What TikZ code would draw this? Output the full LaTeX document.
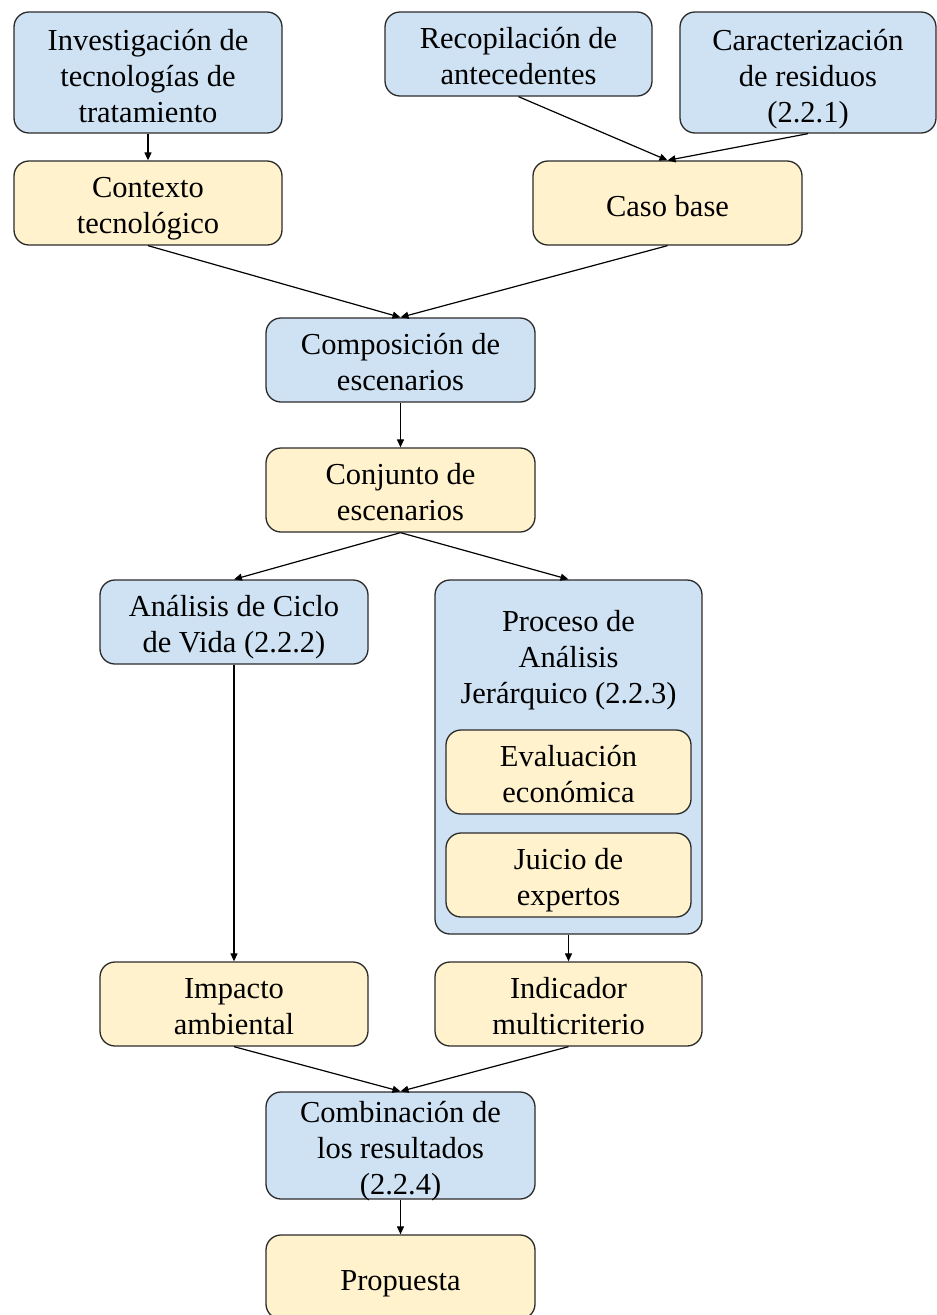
\documentclass[tikz,border=0pt]{standalone}
\usepackage{fontspec}
\setmainfont{Liberation Serif}
\usetikzlibrary{arrows.meta}
\definecolor{stepblue}{HTML}{CFE2F3}
\definecolor{resyellow}{HTML}{FFF2CC}
\definecolor{edgegray}{HTML}{2B2B2B}
\begin{document}
\begin{tikzpicture}[x=1pt,y=-1pt,
  txt/.style={inner sep=0pt, align=center, font=\fontsize{30.5}{36}\selectfont,
    execute at end node={\rule[-7pt]{0pt}{7pt}}},
  % struts (measured from the last baseline) that place the text block in its box
  l1/.style={execute at begin node={\rule{0pt}{33.5pt}}},
  l2/.style={execute at begin node={\rule{0pt}{68pt}}},
  l3/.style={execute at begin node={\rule{0pt}{107pt}}},
  box/.style={txt, draw=edgegray, line width=1.3pt, rounded corners=15pt,
    minimum height=84pt},
  bluebox/.style={box, fill=stepblue},
  yellowbox/.style={box, fill=resyellow},
  link/.style={draw=black, line width=1.2pt, -{Triangle[length=8pt,width=7pt]}}]
\clip (0,0) rectangle (937,1315);
\useasboundingbox (0,0) rectangle (937,1315);

% top row: inputs
\node[bluebox, l3, minimum width=268pt, minimum height=121pt] (inv) at (148,72.5)
  {Investigación de\\tecnologías de\\tratamiento};
\node[bluebox, l2, minimum width=267pt] (rec) at (518.5,54)
  {Recopilación de\\antecedentes};
\node[bluebox, l3, minimum width=256pt, minimum height=121pt] (car) at (808,72.5)
  {Caracterización\\de residuos\\(2.2.1)};

% intermediate results
\node[yellowbox, l2, minimum width=268pt] (ctx) at (148,203) {Contexto\\tecnológico};
\node[yellowbox, l1, minimum width=269pt] (base) at (667.5,203) {Caso base};

\node[bluebox, l2, minimum width=269pt] (comp) at (400.5,360) {Composición de\\escenarios};
\node[yellowbox, l2, minimum width=269pt] (conj) at (400.5,490) {Conjunto de\\escenarios};

% evaluation branches
\node[bluebox, l2, minimum width=268pt] (acv) at (234,622) {Análisis de Ciclo\\de Vida (2.2.2)};
\node[bluebox, minimum width=267pt, minimum height=354pt] (ahp) at (568.5,757) {};
\node[txt, l3] (ahptext) at (568.5,653) {Proceso de\\Análisis\\Jerárquico (2.2.3)};
\node[yellowbox, l2, minimum width=245pt] (eco) at (568.5,772) {Evaluación\\económica};
\node[yellowbox, l2, minimum width=245pt] (exp) at (568.5,875) {Juicio de\\expertos};

\node[yellowbox, l2, minimum width=268pt] (imp) at (234,1004) {Impacto\\ambiental};
\node[yellowbox, l2, minimum width=267pt] (ind) at (568.5,1004) {Indicador\\multicriterio};

% final steps
\node[bluebox, minimum width=269pt, minimum height=107pt] (comb) at (400.5,1145.5) {};
\node[txt, l3] (combtext) at (400.5,1144.5) {Combinación de\\los resultados\\(2.2.4)};
\node[yellowbox, l1, minimum width=269pt] (prop) at (400.5,1277) {Propuesta};

% connectors
\draw[link] (inv.south) -- (ctx.north);
\draw[link] (rec.south) -- (base.north);
\draw[link] (car.south) -- (base.north);
\draw[link] (ctx.south) -- (comp.north);
\draw[link] (base.south) -- (comp.north);
\draw[link] (comp.south) -- (conj.north);
\draw[link] (conj.south) -- (acv.north);
\draw[link] (conj.south) -- (ahp.north);
\draw[link] (acv.south) -- (imp.north);
\draw[link] (ahp.south) -- (ind.north);
\draw[link] (imp.south) -- (comb.north);
\draw[link] (ind.south) -- (comb.north);
\draw[link] (comb.south) -- (prop.north);
\end{tikzpicture}
\end{document}
